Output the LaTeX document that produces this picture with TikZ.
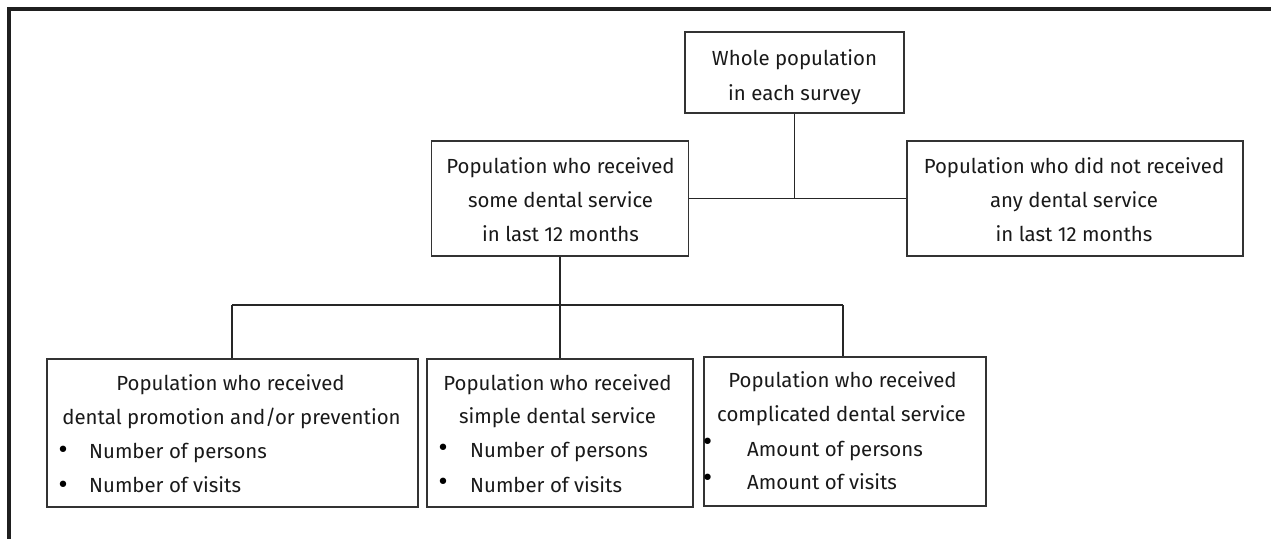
\documentclass[tikz,border=0pt]{standalone}
\usepackage{fontspec}
\setmainfont{Fira Sans}
\newfontfamily\bulfont{DejaVu Sans}
\begin{document}
\begin{tikzpicture}[x=1pt,y=-1pt,
  box/.style={draw=black!80, line width=1.3pt, inner sep=0pt, fill=none},
  txt/.style={anchor=base, inner sep=0pt, font=\fontsize{20.4}{24}\selectfont, text=black!90},
  txl/.style={txt, anchor=base west},
  bul/.style={anchor=base, inner sep=0pt, font=\bulfont\fontsize{22}{24}\selectfont, text=black},
  conn/.style={draw=black!85, line width=1.3pt},
  frame/.style={draw=black!88, line width=4.5pt}]
\useasboundingbox (0,0) rectangle (1271,538);
% frame (top and left)
\coordinate (f1) at (9,545);
\coordinate (f2) at (9,9);
\coordinate (f3) at (1280,9);
\draw[frame] (f1) -- (f2) -- (f3);
% boxes
\node[box, minimum width=219pt, minimum height=81pt] (top) at (794.5,72.5) {};
\node[box, minimum width=257pt, minimum height=115pt] (mid) at (560,198.5) {};
\node[box, minimum width=336pt, minimum height=115pt] (rgt) at (1075,198.5) {};
\node[box, minimum width=371pt, minimum height=148pt] (b1) at (232.5,433) {};
\node[box, minimum width=266pt, minimum height=148pt] (b2) at (560,433) {};
\node[box, minimum width=282pt, minimum height=149pt] (b3) at (845,431.5) {};
% texts
\node[txt] (t1) at (794.5,65) {Whole population};
\node[txt] (t2) at (794.5,100) {in each survey};
\node[txt] (m1) at (560.5,173) {Population who received};
\node[txt] (m2) at (560.5,207) {some dental service};
\node[txt] (m3) at (560.5,241) {in last 12 months};
\node[txt] (r1) at (1074,173) {Population who did not received};
\node[txt] (r2) at (1074,207) {any dental service};
\node[txt] (r3) at (1074,241) {in last 12 months};
\node[txt] (a1) at (230.5,390) {Population who received};
\node[txt] (a2) at (231.5,424) {dental promotion and/or prevention};
\node[bul] (a3) at (63,457) {•};
\node[txl] (a4) at (89,458) {Number of persons};
\node[bul] (a5) at (63,492) {•};
\node[txl] (a6) at (89,492) {Number of visits};
\node[txt] (c1) at (557.5,390) {Population who received};
\node[txt] (c2) at (557.5,423) {simple dental service};
\node[bul] (c3) at (443,455) {•};
\node[txl] (c4) at (470,457) {Number of persons};
\node[bul] (c5) at (443,489) {•};
\node[txl] (c6) at (470,492) {Number of visits};
\node[txt] (d1) at (842.5,387) {Population who received};
\node[txt] (d2) at (841.5,421) {complicated dental service};
\node[bul] (d3) at (707.5,449) {•};
\node[txl] (d4) at (747,456) {Amount of persons};
\node[bul] (d5) at (707.5,485) {•};
\node[txl] (d6) at (747,489) {Amount of visits};
% connectors
\coordinate (j1) at (top.south |- mid.east);
\draw[conn] (top.south) -- (j1);
\draw[conn] (mid.east) -- (rgt.west);
\coordinate (hl) at (232,305);
\coordinate (hr) at (843,305);
\draw[conn] (mid.south) -- (b2.north);
\draw[conn] (hl) -- (hr);
\draw[conn] (hl) -- (hl |- b1.north);
\draw[conn] (hr) -- (hr |- b3.north);
\end{tikzpicture}
\end{document}
